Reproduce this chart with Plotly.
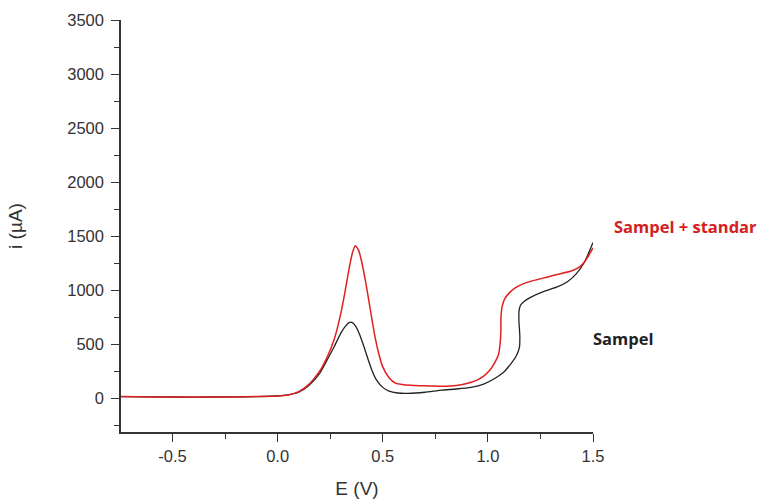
import plotly.graph_objects as go

# Data (E in V, i in µA)
E_red = [-0.745, -0.6, -0.4, -0.2, -0.1, 0.0, 0.05, 0.1, 0.15, 0.2, 0.24, 0.27, 0.3, 0.32, 0.34,
         0.355, 0.37, 0.385, 0.40, 0.42, 0.44, 0.46, 0.48, 0.50, 0.53, 0.56, 0.6, 0.65, 0.7, 0.75,
         0.8, 0.85, 0.9, 0.95, 0.98, 1.01, 1.03, 1.05, 1.058, 1.062, 1.062, 1.068, 1.08, 1.10, 1.13,
         1.17, 1.22, 1.28, 1.34, 1.40, 1.44, 1.47, 1.50]
i_red = [15, 12, 10, 12, 15, 20, 30, 60, 130, 250, 400, 550, 780, 980, 1200,
         1340, 1410, 1370, 1260, 1060, 830, 600, 420, 290, 190, 140, 125, 118, 115, 112,
         110, 118, 135, 170, 205, 260, 320, 400, 500, 620, 740, 850, 920, 970, 1020,
         1060, 1090, 1120, 1150, 1180, 1220, 1290, 1390]

E_blk = [-0.745, -0.6, -0.4, -0.2, -0.1, 0.0, 0.05, 0.1, 0.15, 0.2, 0.24, 0.27, 0.3, 0.32, 0.34,
         0.355, 0.37, 0.39, 0.41, 0.43, 0.45, 0.47, 0.5, 0.53, 0.57, 0.62, 0.7, 0.78, 0.85, 0.92,
         0.98, 1.03, 1.08, 1.11, 1.135, 1.15, 1.152, 1.148, 1.148, 1.155, 1.175, 1.21, 1.27,
         1.33, 1.38, 1.42, 1.46, 1.50]
i_blk = [15, 12, 10, 12, 15, 20, 30, 55, 120, 230, 370, 480, 600, 660, 700,
         700, 670, 590, 480, 360, 250, 170, 100, 65, 48, 45, 55, 75, 85, 100,
         130, 180, 250, 320, 390, 470, 580, 700, 800, 860, 900, 940, 990,
         1030, 1080, 1150, 1260, 1440]

x_ticks = [-0.5, 0.0, 0.5, 1.0, 1.5]
x_ticklabels = ["-0.5", "0.0", "0.5", "1.0", "1.5"]
y_ticks = [0, 500, 1000, 1500, 2000, 2500, 3000, 3500]

FONT = "Liberation Sans, Arial, sans-serif"

fig = go.Figure()
fig.add_trace(go.Scatter(x=E_blk, y=i_blk, mode="lines", name="Sampel",
                         line=dict(color="#222222", width=1.3, shape="spline", smoothing=0.5)))
fig.add_trace(go.Scatter(x=E_red, y=i_red, mode="lines", name="Sampel + standar",
                         line=dict(color="#e0201f", width=1.5, shape="spline", smoothing=0.5)))

axis_common = dict(showline=True, linecolor="#333333", linewidth=1.5, showgrid=False,
                   zeroline=False, ticks="outside", ticklen=8, tickwidth=1.3, tickcolor="#333333",
                   tickfont=dict(family=FONT, size=16.5, color="#333333"),
                   mirror=False, automargin=False)

fig.update_xaxes(range=[-0.745, 1.5], tickvals=x_ticks, ticktext=x_ticklabels,
                 minor=dict(dtick=0.25, tick0=0, ticks="outside", ticklen=5, tickwidth=1.2,
                            tickcolor="#333333", showgrid=False),
                 title=dict(text="E (V)", font=dict(family=FONT, size=19, color="#333333"),
                            standoff=18),
                 **axis_common)
fig.update_yaxes(range=[-313, 3500], tickvals=y_ticks, ticklabelstandoff=4,
                 minor=dict(dtick=250, tick0=0, ticks="outside", ticklen=5, tickwidth=1.2,
                            tickcolor="#333333", showgrid=False),
                 title=dict(text="i (µA)", font=dict(family=FONT, size=19, color="#333333"),
                            standoff=40),
                 **axis_common)

fig.add_annotation(x=1.195, y=0.4976, xref="paper", yref="paper", text="<b>Sampel + standar</b>",
                   xanchor="center", yanchor="middle", showarrow=False,
                   font=dict(family="Open Sans, sans-serif", size=16.5, color="#d42020"))
fig.add_annotation(x=1.0636, y=0.228, xref="paper", yref="paper", text="<b>Sampel</b>",
                   xanchor="center", yanchor="middle", showarrow=False,
                   font=dict(family="Open Sans, sans-serif", size=16.5, color="#222222"))

fig.update_layout(width=761, height=500, margin=dict(l=121, r=168, t=20, b=68),
                  paper_bgcolor="white", plot_bgcolor="white", showlegend=False)

fig.write_html("out.html")
